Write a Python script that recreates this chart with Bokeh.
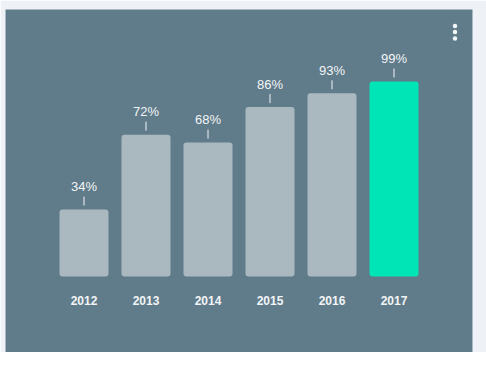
from bokeh.plotting import figure
from bokeh.models import ColumnDataSource, Range1d
from bokeh.core.properties import value
from bokeh.embed import file_html
from bokeh.resources import INLINE

years = ["2012", "2013", "2014", "2015", "2016", "2017"]
percents = [34, 72, 68, 86, 93, 99]
labels = [f"{v}%" for v in percents]

BG = "#607b8a"
BAR = "#aab9c0"
HL = "#00e5b5"
TXT = "#f2f5f7"

xs = list(range(len(years)))
colors = [BAR] * (len(years) - 1) + [HL]

px_per_cat = 62.0
px_per_unit = 1.97

src = ColumnDataSource(dict(
    x=xs, top=percents, year=years, label=labels, color=colors,
    tick0=[v + 4 / px_per_unit for v in percents],
    tick1=[v + 13 / px_per_unit for v in percents],
))

p = figure(width=486, height=352, output_backend="svg", toolbar_location=None,
           x_range=Range1d(-78.5 / px_per_cat, 388.5 / px_per_cat),
           y_range=Range1d(-76 / px_per_unit, 267 / px_per_unit),
           min_border_left=5, min_border_right=14, min_border_top=9, min_border_bottom=0)
p.background_fill_color = BG
p.border_fill_color = "#eef2f6"
p.outline_line_color = None
p.axis.visible = False
p.grid.visible = False

p.vbar(x="x", top="top", bottom=0, width=49 / px_per_cat, source=src,
       fill_color="color", line_color=None, border_radius=3)

p.segment(x0="x", y0="tick0", x1="x", y1="tick1", source=src,
          line_color=TXT, line_width=1)

p.text(x="x", y="top", text="label", source=src, text_align="center",
       text_baseline="middle", y_offset=-23, text_color=TXT,
       text_font=value("Liberation Sans"), text_font_size="13px")

p.text(x="x", y=0, text="year", source=src, text_align="center",
       text_baseline="middle", y_offset=24, text_color=TXT,
       text_font=value("Liberation Sans"), text_font_size="12px",
       text_font_style="bold")

# menu dots (decoration)
dot_x = [(454.5 - 83.5) / px_per_cat] * 3
dot_y = [(276 - yy) / px_per_unit for yy in (25.5, 31.5, 38)]
p.scatter(dot_x, dot_y, size=4.5, fill_color="#f2f5f7", line_color=None)

open("out.html", "w").write(file_html(p, INLINE))
